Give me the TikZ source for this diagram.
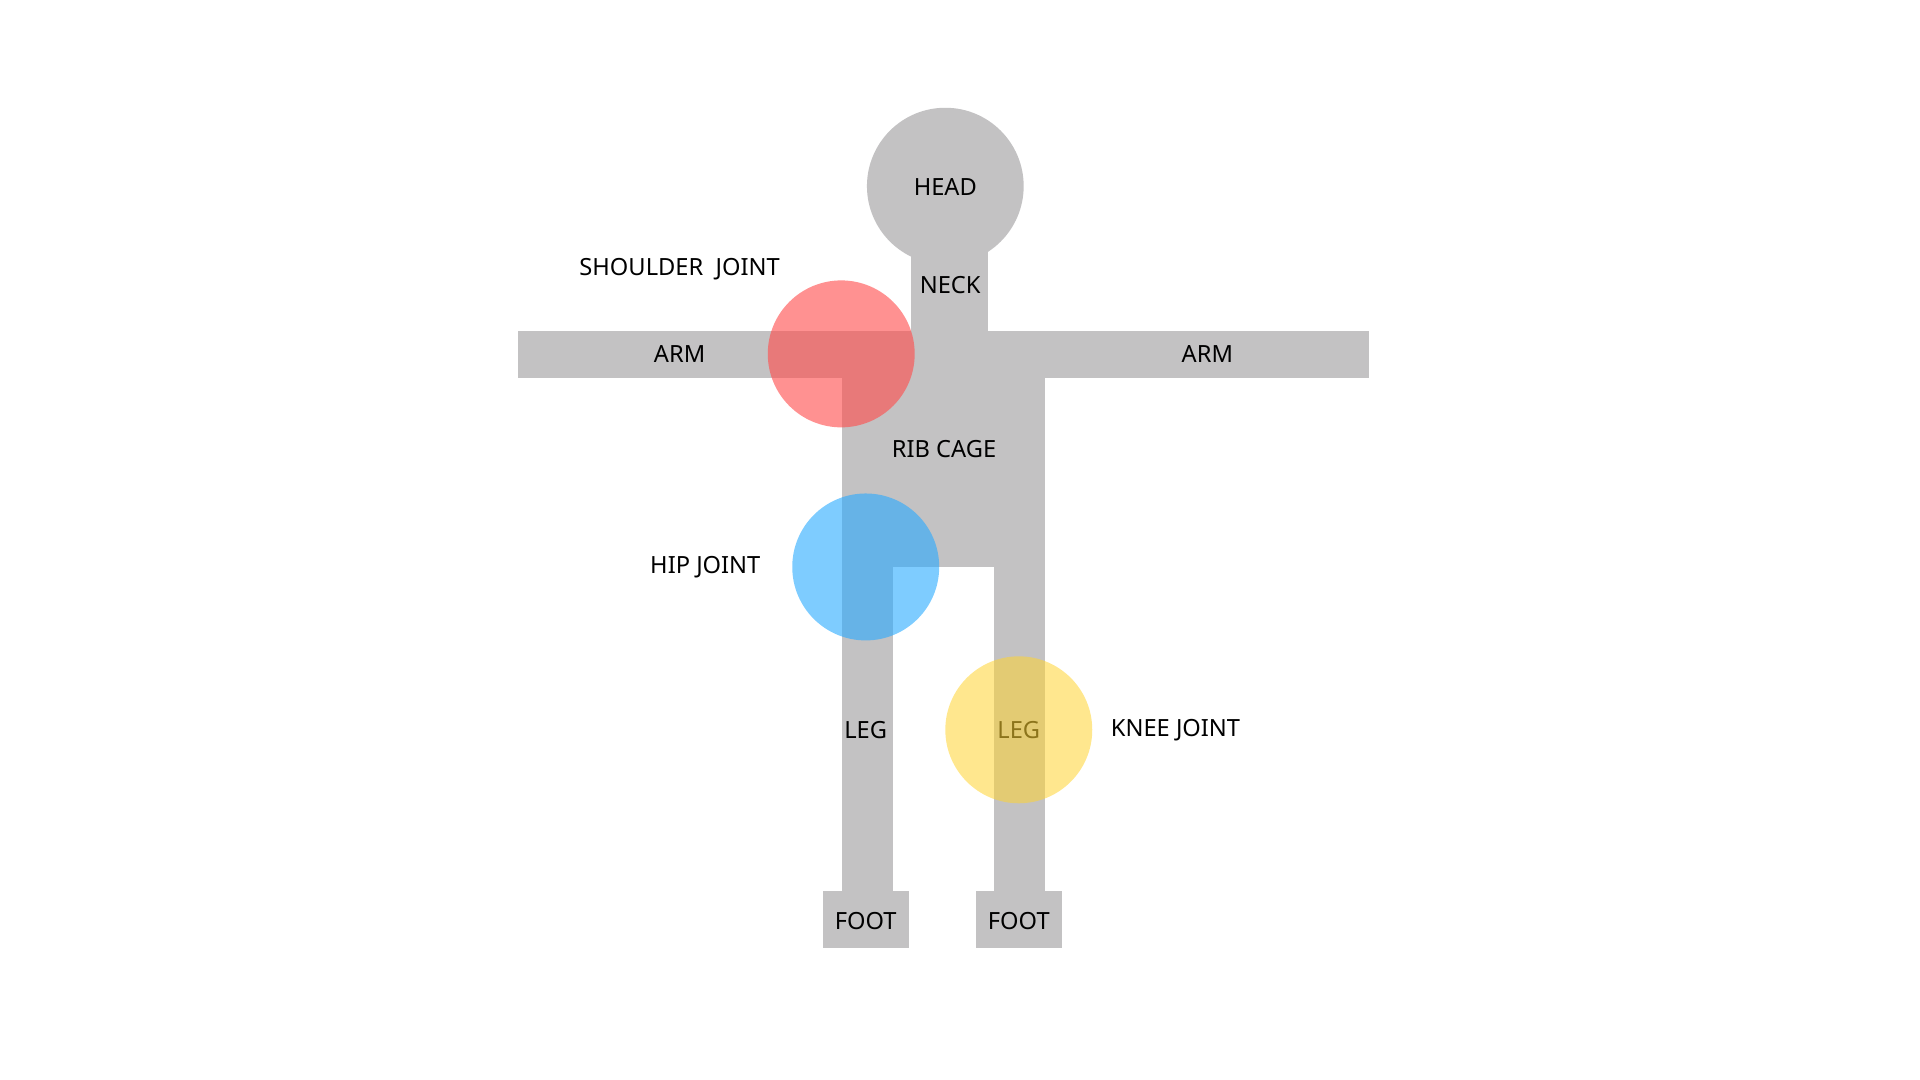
\documentclass[tikz,border=0pt]{standalone}
\usepackage{fontspec}
\setmainfont{Noto Sans}
\definecolor{body}{RGB}{195,194,195}
\definecolor{jred}{RGB}{255,77,77}
\definecolor{jblue}{RGB}{40,170,255}
\definecolor{jyel}{RGB}{255,212,50}
\begin{document}
\begin{tikzpicture}[x=0.02cm,y=-0.02cm,
  part/.style={fill=body,draw=none},
  lbl/.style={font=\fontsize{11}{13}\selectfont,text=black,inner sep=0pt},
  joint/.style={draw=none,fill opacity=0.62}]
\useasboundingbox (0,0) rectangle (1568,882);
\fill[part] (772,152) circle (64);
\fill[part] (744,200) rectangle (807,270);
\fill[part] (423,270) rectangle (688,309);
\fill[part] (853,270) rectangle (1118,309);
\fill[part] (688,270) rectangle (853,463);
\fill[part] (688,463) rectangle (729,728);
\fill[part] (812,463) rectangle (853,728);
\fill[part] (672,728) rectangle (742,774);
\fill[part] (797,728) rectangle (867,774);
\node[lbl] (head) at (772,153) {HEAD};
\node[lbl] (neck) at (776,233) {NECK};
\node[lbl] (arml) at (555,289) {ARM};
\node[lbl] (armr) at (986,289) {ARM};
\node[lbl] (rib) at (771,367) {RIB CAGE};
\node[lbl] (legl) at (707,596) {LEG};
\node[lbl] (legr) at (832,596) {LEG};
\node[lbl] (footl) at (707,752) {FOOT};
\node[lbl] (footr) at (832,752) {FOOT};
\fill[joint,jred] (687,289) circle (60);
\fill[joint,jblue,fill opacity=0.6] (707,463) circle (60);
\fill[joint,jyel,fill opacity=0.55] (832,596) circle (60);
\node[lbl] (sj) at (555,220) {SHOULDER\ \ JOINT};
\node[lbl] (hj) at (576,463) {HIP JOINT};
\node[lbl] (kj) at (960,596) {KNEE JOINT};
\end{tikzpicture}
\end{document}
